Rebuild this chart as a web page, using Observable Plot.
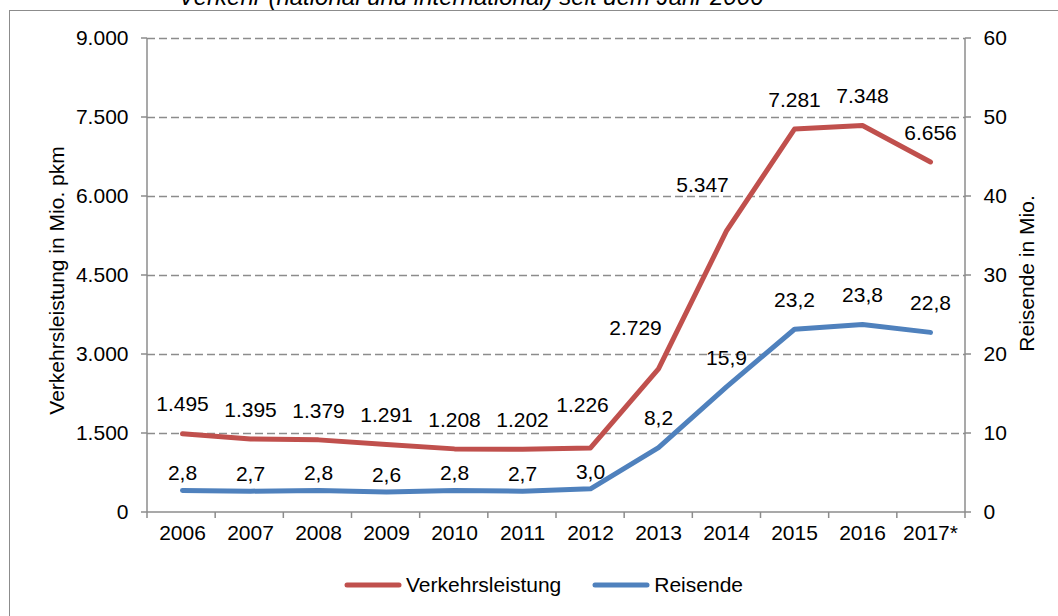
<!DOCTYPE html>
<html>
<head>
<meta charset="utf-8">
<script src="https://cdn.jsdelivr.net/npm/d3@7"></script>
<script src="https://cdn.jsdelivr.net/npm/@observablehq/plot@0.6"></script>
<style>
  html, body { margin: 0; padding: 0; background: #fff; }
  #wrap { position: relative; width: 1058px; height: 616px; overflow: hidden; font-family: "Liberation Sans", Arial, sans-serif; color: #000; }
  #border { position: absolute; left: 9px; top: 10px; width: 1200px; height: 800px; border: 1.5px solid #8c8c8c; box-sizing: border-box; }
  #title { position: absolute; left: 0; top: -15px; width: 942px; text-align: center; font-size: 24px; font-style: italic; line-height: 1; white-space: nowrap; }
  #chart { position: absolute; left: 0; top: 0; }
  #legend { position: absolute; left: 343px; top: 573px; height: 24px; display: flex; align-items: center; font-size: 21px; }
  .item { display: flex; align-items: center; }
  .item + .item { margin-left: 30px; }
  .item svg { display: block; margin-right: 3px; }
</style>
</head>
<body>
<div id="wrap">
  <div id="border"></div>
  <div id="title">Verkehr (national und international) seit dem Jahr 2006</div>
  <div id="chart"></div>
  <div id="legend"></div>
</div>
<script>
// ---- data ----
const years = ["2006","2007","2008","2009","2010","2011","2012","2013","2014","2015","2016","2017*"];
const verkehrsleistung = [1495, 1395, 1379, 1291, 1208, 1202, 1226, 2729, 5347, 7281, 7348, 6656];
const reisende = [2.8, 2.7, 2.8, 2.6, 2.8, 2.7, 3.0, 8.2, 15.9, 23.2, 23.8, 22.8];
const leftTicks = [0, 1500, 3000, 4500, 6000, 7500, 9000];
const rightTicks = [0, 10, 20, 30, 40, 50, 60];
const seriesNames = ["Verkehrsleistung", "Reisende"];
const leftTitle = "Verkehrsleistung in Mio. pkm";
const rightTitle = "Reisende in Mio.";

// ---- styles ----
const RED = "#C0504D", BLUE = "#4F81BD", AXIS = "#8c8c8c";
const RATIO = leftTicks[leftTicks.length - 1] / rightTicks[rightTicks.length - 1];
const fmtK = v => d3.format(",")(v).replace(/,/g, ".");
const fmtD = v => d3.format(".1f")(v).replace(".", ",");

const rows = years.map((year, i) => ({year, vl: verkehrsleistung[i], r: reisende[i]}));

function axisFrame(index, scales, values, dims) {
  const {width, height, marginLeft: ml, marginRight: mr, marginTop: mt, marginBottom: mb} = dims;
  const xl = ml, xr = width - mr, yb = height - mb;
  const sy = scales && scales.y ? scales.y : (v => yb - (v / leftTicks[leftTicks.length - 1]) * (yb - mt));
  const yt = sy(leftTicks[leftTicks.length - 1]);
  const step = (xr - xl) / years.length;
  const g = d3.create("svg:g").attr("stroke", AXIS).attr("stroke-width", 1.5).attr("fill", "none");
  g.append("line").attr("x1", xl).attr("x2", xl).attr("y1", yt).attr("y2", yb);
  g.append("line").attr("x1", xr).attr("x2", xr).attr("y1", yt).attr("y2", yb);
  g.append("line").attr("x1", xl).attr("x2", xr).attr("y1", yb).attr("y2", yb);
  for (const t of leftTicks) {
    const y = sy(t);
    g.append("line").attr("x1", xl - 6).attr("x2", xl).attr("y1", y).attr("y2", y);
    g.append("line").attr("x1", xr).attr("x2", xr + 6).attr("y1", y).attr("y2", y);
  }
  for (let i = 0; i <= years.length; i++) {
    const x = xl + i * step;
    g.append("line").attr("x1", x).attr("x2", x).attr("y1", yb).attr("y2", yb + 6);
  }
  return g.node();
}

const textOpts = {fontSize: 21, fill: "#000"};
const redY = d => d.vl, blueY = d => d.r * RATIO;

const chart = Plot.plot({
  width: 1058,
  height: 616,
  marginLeft: 147,
  marginRight: 93,
  marginTop: 38,
  marginBottom: 104,
  style: {fontFamily: '"Liberation Sans", Arial, sans-serif', fontSize: "21px", background: "transparent", overflow: "visible"},
  x: {type: "point", domain: years, padding: 0.5, axis: null},
  y: {domain: [0, leftTicks[leftTicks.length - 1]], axis: null},
  marks: [
    Plot.ruleY(leftTicks.filter(t => t > 0), {stroke: AXIS, strokeWidth: 1.5, strokeDasharray: "8,4"}),
    axisFrame,
    // left tick labels
    Plot.text(leftTicks, {y: d => d, text: fmtK, frameAnchor: "left", textAnchor: "end", dx: -19, ...textOpts}),
    // right tick labels
    Plot.text(rightTicks, {y: d => d * RATIO, text: d => String(d), frameAnchor: "right", textAnchor: "start", dx: 18, ...textOpts}),
    // x labels
    Plot.text(years, {x: d => d, text: d => d, frameAnchor: "bottom", dy: 27, ...textOpts}),
    // axis titles
    Plot.text([leftTitle], {text: d => d, frameAnchor: "left", textAnchor: "middle", rotate: -90, dx: -90, dy: 5, ...textOpts}),
    Plot.text([rightTitle], {text: d => d, frameAnchor: "right", textAnchor: "middle", rotate: -90, dx: 62, dy: -2, ...textOpts}),
    // lines
    Plot.line(rows, {x: "year", y: blueY, stroke: BLUE, strokeWidth: 5, strokeLinecap: "round", strokeLinejoin: "round"}),
    Plot.line(rows, {x: "year", y: redY, stroke: RED, strokeWidth: 5, strokeLinecap: "round", strokeLinejoin: "round"}),
    // red value labels
    Plot.text(rows, {filter: d => !["2012", "2013", "2014"].includes(d.year), x: "year", y: redY, text: d => fmtK(d.vl), dy: -29, ...textOpts}),
    Plot.text(rows, {filter: d => d.year === "2012", x: "year", y: redY, text: d => fmtK(d.vl), dx: -8, dy: -43, ...textOpts}),
    Plot.text(rows, {filter: d => d.year === "2013", x: "year", y: redY, text: d => fmtK(d.vl), dx: -23, dy: -41, ...textOpts}),
    Plot.text(rows, {filter: d => d.year === "2014", x: "year", y: redY, text: d => fmtK(d.vl), dx: -24, dy: -46, ...textOpts}),
    // blue value labels
    Plot.text(rows, {filter: d => d.r < 5, x: "year", y: blueY, text: d => fmtD(d.r), dy: -17, ...textOpts}),
    Plot.text(rows, {filter: d => d.r >= 5, x: "year", y: blueY, text: d => fmtD(d.r), dy: -29, ...textOpts})
  ]
});
document.getElementById("chart").appendChild(chart);

// legend
const legend = d3.select("#legend");
[[seriesNames[0], RED], [seriesNames[1], BLUE]].forEach(([name, color]) => {
  const item = legend.append("div").attr("class", "item");
  const s = item.append("svg").attr("width", 60).attr("height", 10);
  s.append("line").attr("x1", 4).attr("x2", 56).attr("y1", 5).attr("y2", 5)
    .attr("stroke", color).attr("stroke-width", 5).attr("stroke-linecap", "round");
  item.append("span").text(name);
});
</script>
</body>
</html>
